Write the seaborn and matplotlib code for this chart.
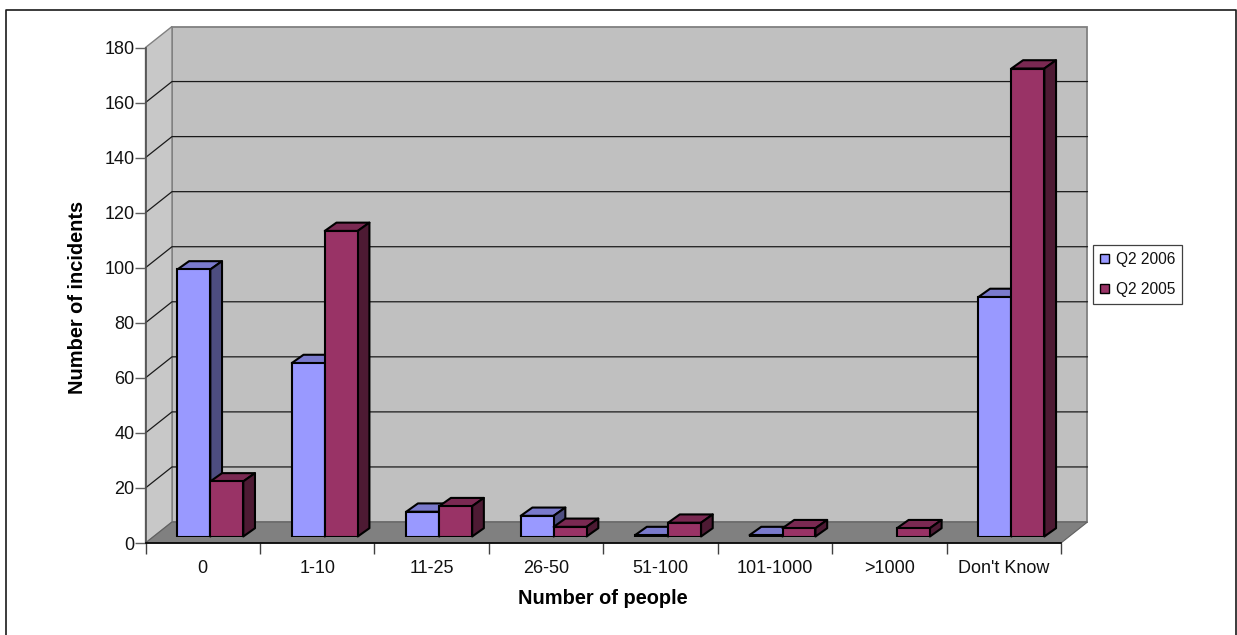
import matplotlib
matplotlib.use("Agg")
import matplotlib.pyplot as plt
from matplotlib.lines import Line2D
from matplotlib.patches import Polygon, Patch, Rectangle
import pandas as pd
import seaborn as sns

categories = ["0", "1-10", "11-25", "26-50", "51-100", "101-1000", ">1000", "Don't Know"]
q2_2006 = [97, 63, 9, 7.5, 0.5, 0.5, 0, 87]
q2_2005 = [20, 111, 11, 3.5, 5, 3, 3, 170]
series_names = ["Q2 2006", "Q2 2005"]
y_ticks = list(range(0, 181, 20))

W, H = 1237, 635
FRONT_L, FRONT_R, FRONT_T, FRONT_B = 145.5, 1061.0, 47.5, 543.0
WALL_DX, WALL_DY = 26.5, 21.0      # depth of the chart box, px
BAR_DX, BAR_DY = 11.7, 8.3         # depth of one column, px
SHIFT_X, SHIFT_Y = 7.6, 6.5        # columns stand part-way into the box, px

BLUE, RED = "#9999FF", "#993366"
FACE_SHADES = {BLUE: ("#7A7ACC", "#4D4D80"), RED: ("#7A2952", "#4D1A33")}
TICK_PT, TITLE_PT, LEGEND_PT = 13.0, 14.4, 11.2

sns.set_theme(style="white")
plt.rcParams["font.family"] = ["Liberation Sans", "DejaVu Sans"]

fig = plt.figure(figsize=(W / 100, H / 100), dpi=100, facecolor="white")

# Outer chart-area border: it runs off the bottom of the canvas
fig.add_artist(Line2D([6 / W, 6 / W, 1236 / W, 1236 / W], [0, 1 - 10 / H, 1 - 10 / H, 0],
                      transform=fig.transFigure, color="#1A1A1A", lw=1.2))


def box(left, top, right, bottom):
    return [left / W, 1 - bottom / H, (right - left) / W, (bottom - top) / H]


ax = fig.add_axes(box(FRONT_L, FRONT_T, FRONT_R, FRONT_B), facecolor="none", zorder=1)
ax_bars = fig.add_axes(box(FRONT_L + SHIFT_X, FRONT_T - SHIFT_Y, FRONT_R + SHIFT_X, FRONT_B - SHIFT_Y),
                       facecolor="none", zorder=2)

x_lim = (-0.5, len(categories) - 0.5)
y_lim = (y_ticks[0], y_ticks[-1])
ux = (x_lim[1] - x_lim[0]) / (FRONT_R - FRONT_L)   # data units per px
uy = (y_lim[1] - y_lim[0]) / (FRONT_B - FRONT_T)
dx, dy = WALL_DX * ux, WALL_DY * uy

# Walls and floor of the 3-D box
GREY_EDGE = "#808080"
x0, x1 = x_lim
y0, y1 = y_lim
ax.add_patch(Polygon([(x0 + dx, y0 + dy), (x1 + dx, y0 + dy), (x1 + dx, y1 + dy), (x0 + dx, y1 + dy)],
                     fc="#C0C0C0", ec=GREY_EDGE, lw=1.3, clip_on=False, zorder=1))
ax.add_patch(Polygon([(x0, y0), (x0 + dx, y0 + dy), (x0 + dx, y1 + dy), (x0, y1)],
                     fc="#C8C8C8", ec=GREY_EDGE, lw=1.0, clip_on=False, zorder=1))
ax.add_patch(Polygon([(x0, y0), (x1, y0), (x1 + dx, y0 + dy), (x0 + dx, y0 + dy)],
                     fc="#808080", ec="#606060", lw=0.8, clip_on=False, zorder=2))
for v in y_ticks[1:-1]:
    ax.plot([x0, x0 + dx, x1 + dx], [v, v + dy, v + dy], color="#1A1A1A", lw=0.9,
            clip_on=False, zorder=3)

# Axis furniture on the front plane
ax.set_xlim(x_lim)
ax.set_ylim(y_lim)
ax.set_yticks(y_ticks)
ax.set_xticks(range(len(categories)))
ax.set_xticklabels(categories)
ax.set_xticks([i - 0.5 for i in range(len(categories) + 1)], minor=True)
ax.tick_params(axis="x", which="major", length=0, pad=12, labelsize=TICK_PT, colors="#111111")
ax.tick_params(axis="x", which="minor", length=8, width=1, color="#404040", bottom=True)
ax.tick_params(axis="y", length=8, width=1, color="#606060", pad=0, labelsize=TICK_PT,
               left=True, labelcolor="#111111")
ax.set_xlabel("Number of people", fontweight="bold", fontsize=TITLE_PT, va="center", color="black")
ax.set_ylabel("Number of incidents", fontweight="bold", fontsize=TITLE_PT, va="center", color="black")
ax.xaxis.set_label_coords((602.5 - FRONT_L) / (FRONT_R - FRONT_L), (FRONT_B - 599) / (FRONT_B - FRONT_T))
ax.yaxis.set_label_coords((77 - FRONT_L) / (FRONT_R - FRONT_L), (FRONT_B - 297) / (FRONT_B - FRONT_T))
for name, spine in ax.spines.items():
    spine.set_visible(name in ("left", "bottom"))
    spine.set_linewidth(1.2)
    spine.set_zorder(4)
ax.spines["left"].set_color("#505050")
ax.spines["bottom"].set_color("black")

# Columns
df = pd.DataFrame({
    "category": categories * 2,
    "incidents": q2_2006 + q2_2005,
    "period": [series_names[0]] * len(categories) + [series_names[1]] * len(categories),
})
sns.barplot(data=df, x="category", y="incidents", hue="period", order=categories,
            hue_order=series_names, palette=[BLUE, RED], saturation=1, width=0.576, gap=0,
            edgecolor="black", linewidth=1.5, legend=False, ax=ax_bars)
ax_bars.set_xlim(x_lim)
ax_bars.set_ylim(y_lim)
ax_bars.axis("off")

bdx, bdy = BAR_DX * ux, BAR_DY * uy
n = len(categories)
bars = [p for p in ax_bars.patches if isinstance(p, Rectangle)]
for i, bar in enumerate(bars):
    colour = BLUE if i < n else RED
    base_z = 3 if i < n else 6
    h = bar.get_height()
    if h == 0:
        bar.set_visible(False)
        continue
    left, right = bar.get_x(), bar.get_x() + bar.get_width()
    top_shade, side_shade = FACE_SHADES[colour]
    bar.set_zorder(base_z + 1)
    ax_bars.add_patch(Polygon([(left, h), (right, h), (right + bdx, h + bdy), (left + bdx, h + bdy)],
                              fc=top_shade, ec="black", lw=1.5, clip_on=False,
                              joinstyle="round", zorder=base_z))
    ax_bars.add_patch(Polygon([(right, 0), (right + bdx, bdy), (right + bdx, h + bdy), (right, h)],
                              fc=side_shade, ec="black", lw=1.5, clip_on=False,
                              joinstyle="round", zorder=base_z))

handles = [Patch(fc=BLUE, ec="black", lw=1), Patch(fc=RED, ec="black", lw=1)]
leg = fig.legend(handles, series_names, loc="upper left",
                 bbox_to_anchor=(1093 / W, 1 - 245 / H), bbox_transform=fig.transFigure,
                 frameon=True, fancybox=False, edgecolor="#404040", facecolor="white",
                 framealpha=1, fontsize=LEGEND_PT, handlelength=0.56, handleheight=0.56,
                 handletextpad=0.45, labelspacing=0.95, borderpad=0.45, borderaxespad=0,
                 labelcolor="#111111")
leg.get_frame().set_linewidth(0.9)

fig.savefig("out.png", dpi=100, facecolor="white")
